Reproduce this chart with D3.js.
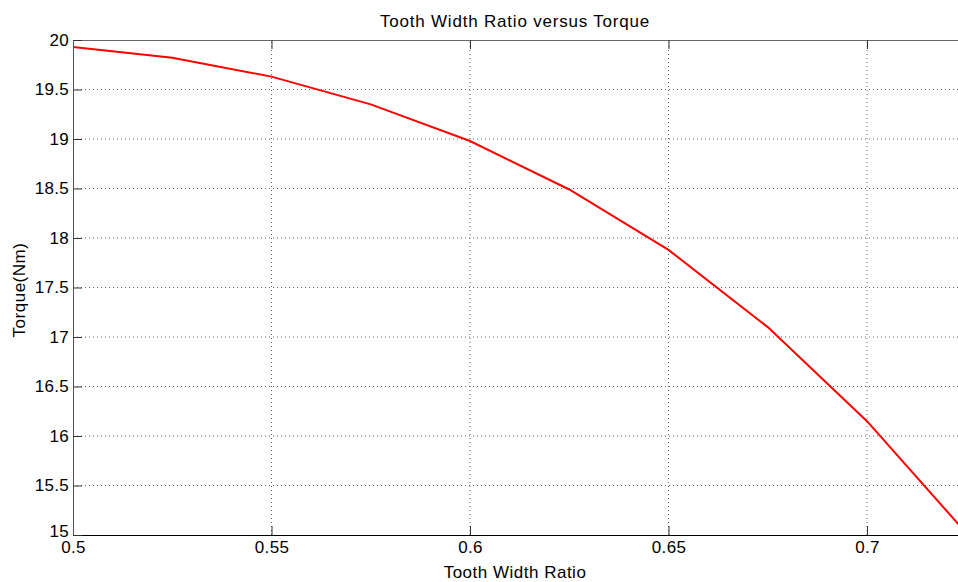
<!DOCTYPE html>
<html>
<head>
<meta charset="utf-8">
<script src="https://cdn.jsdelivr.net/npm/d3@7"></script>
<style>
  body { margin: 0; background: #fff; }
  svg { display: block; font-family: "Liberation Sans", Arial, sans-serif; }
</style>
</head>
<body>
<svg id="chart"></svg>
<script>
// tooth width ratio vs torque
const ratios = [0.5, 0.525, 0.55, 0.575, 0.6, 0.625, 0.65, 0.675, 0.7, 0.725];
const torque = [19.93, 19.82, 19.63, 19.35, 18.98, 18.49, 17.88, 17.1, 16.15, 15.02];
const xTicks = [0.5, 0.55, 0.6, 0.65, 0.7];
const yTicks = [15, 15.5, 16, 16.5, 17, 17.5, 18, 18.5, 19, 19.5, 20];

const width = 958, height = 582;
const margin = {top: 40, left: 73, bottom: 47};

const svg = d3.select('#chart')
    .attr('width', width)
    .attr('height', height);

// plot runs past the right edge of the picture
const x = d3.scaleLinear().domain([0.5, 0.725]).range([margin.left, margin.left + 0.225 * 3970]);
const y = d3.scaleLinear().domain([15, 20]).range([height - margin.bottom, margin.top]);

const x0 = x.range()[0], x1 = x.range()[1];
const y0 = y.range()[0], y1 = y.range()[1];

// grid
svg.append('g').selectAll('line')
    .data(xTicks.slice(1))
    .join('line')
    .attr('x1', d => x(d)).attr('x2', d => x(d))
    .attr('y1', y0).attr('y2', y1)
    .attr('stroke', '#666').attr('stroke-dasharray', '1,3');

svg.append('g').selectAll('line')
    .data(yTicks.slice(1, -1))
    .join('line')
    .attr('x1', x0).attr('x2', x1)
    .attr('y1', d => y(d)).attr('y2', d => y(d))
    .attr('stroke', '#666').attr('stroke-dasharray', '1,3');

// line
svg.append('path')
    .datum(ratios.map((r, i) => [r, torque[i]]))
    .attr('d', d3.line().x(d => x(d[0])).y(d => y(d[1])))
    .attr('fill', 'none')
    .attr('stroke', '#ff0000')
    .attr('stroke-width', 2);

// axes (ticks point inward like matlab)
const xAxis = svg.append('g')
    .attr('transform', `translate(0,${y0})`)
    .call(d3.axisBottom(x).tickValues(xTicks).tickSizeInner(-9).tickSizeOuter(0).tickPadding(4).tickFormat(d3.format('')));
const xAxisTop = svg.append('g')
    .attr('transform', `translate(0,${y1})`)
    .call(d3.axisTop(x).tickValues(xTicks).tickSizeInner(-9).tickSizeOuter(0).tickFormat(''));
const yAxis = svg.append('g')
    .attr('transform', `translate(${x0},0)`)
    .call(d3.axisLeft(y).tickValues(yTicks).tickSizeInner(-9).tickSizeOuter(0).tickPadding(4).tickFormat(d3.format('')));

xAxis.select('.domain').attr('stroke', '#000');
xAxisTop.select('.domain').attr('stroke', '#666');
yAxis.select('.domain').attr('stroke', '#555');
svg.selectAll('.tick line').attr('stroke', '#333');
svg.selectAll('.tick text')
    .attr('fill', '#000')
    .style('font-size', '17px')
    .style('font-family', '"Liberation Sans", Arial, sans-serif')
    .style('letter-spacing', '0.3px');
xAxis.selectAll('.tick text').attr('dy', '0.85em');
// the 15 label sits a little above the corner, as in the original
yAxis.selectAll('.tick text').filter(d => d === 15).attr('dy', '0.1em');

// labels
svg.append('text')
    .attr('x', 515).attr('y', 27)
    .attr('text-anchor', 'middle')
    .style('font-size', '17px')
    .style('letter-spacing', '0.8px')
    .text('Tooth Width Ratio versus Torque');

svg.append('text')
    .attr('x', 515).attr('y', 578)
    .attr('text-anchor', 'middle')
    .style('font-size', '17px')
    .style('letter-spacing', '0.5px')
    .text('Tooth Width Ratio');

svg.append('text')
    .attr('transform', 'translate(25,290) rotate(-90)')
    .attr('text-anchor', 'middle')
    .style('font-size', '17px')
    .style('letter-spacing', '0.5px')
    .text('Torque(Nm)');
</script>
</body>
</html>
